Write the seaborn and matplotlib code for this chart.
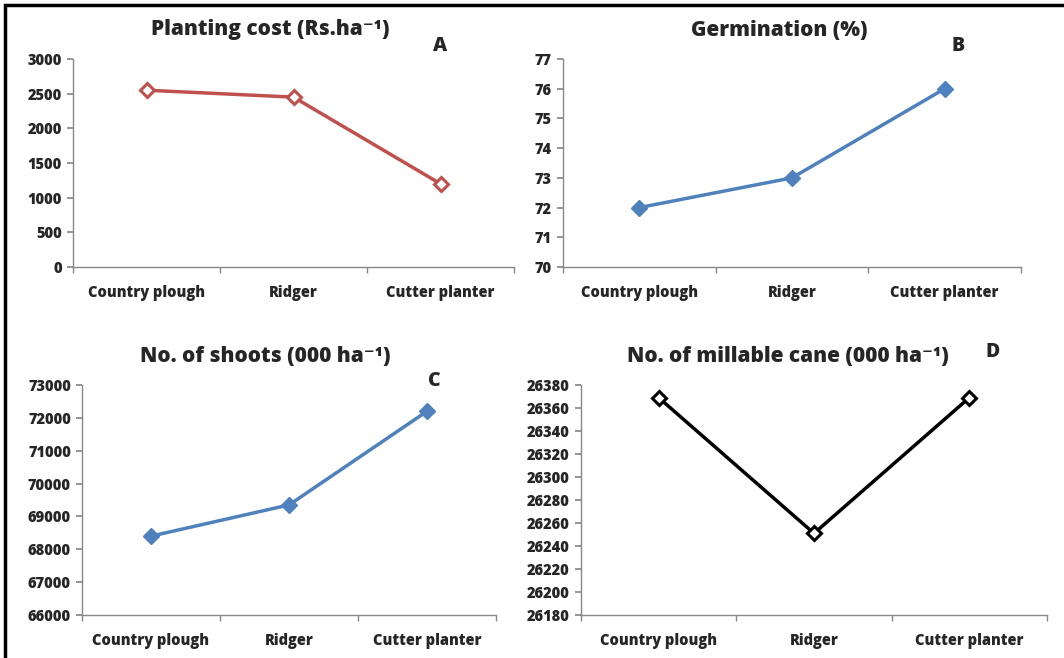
import matplotlib
matplotlib.use("Agg")
import matplotlib.pyplot as plt
import seaborn as sns
import pandas as pd
from matplotlib.patches import Rectangle

# categories shared by all four panels
methods = ["Country plough", "Ridger", "Cutter planter"]

# panel values
planting_cost = [2550, 2450, 1200]
germination = [72, 73, 76]
shoots = [68400, 69350, 72200]
millable_cane = [26369, 26251, 26369]

sns.set_theme(style="white")
plt.rcParams['font.family'] = ['Open Sans', 'DejaVu Sans']
plt.rcParams['font.weight'] = 'bold'

fig = plt.figure(figsize=(10.64, 6.58), dpi=100)

# outer frame
fig.patches.append(Rectangle((5 / 1064, -0.01), 1.02, (653 / 658) + 0.01,
                             transform=fig.transFigure, fill=False,
                             edgecolor="black", linewidth=2.5))

panels = [
    # values, color, open marker?, ylim, ystep, title, letter, axes rect, title xy, letter xy
    (planting_cost, "#C0504D", True, (0, 3000), 500, "Planting cost (Rs.ha\u207b\u00b9)", "A",
     [73, 59, 514, 267], (270, 30), (440, 46)),
    (germination, "#4F81BD", False, (70, 77), 1, "Germination (%)", "B",
     [563, 59, 1021, 267], (779, 30), (958, 46)),
    (shoots, "#4F81BD", False, (66000, 73000), 1000, "No. of shoots (000 ha\u207b\u00b9)", "C",
     [82, 385, 496, 615], (265, 356), (434, 381)),
    (millable_cane, "black", True, (26180, 26380), 20, "No. of millable cane (000 ha\u207b\u00b9)", "D",
     [581, 385, 1047, 615], (788, 356), (993, 352)),
]

W, H = 1064, 658
for vals, color, hollow, ylim, step, title, letter, box, tpos, lpos in panels:
    x0, y0, x1, y1 = box
    ax = fig.add_axes([x0 / W, 1 - y1 / H, (x1 - x0) / W, (y1 - y0) / H])
    df = pd.DataFrame({"method": methods, "value": vals})
    sns.lineplot(data=df, x="method", y="value", ax=ax, color=color, linewidth=2.5,
                 marker="D", markersize=8 if not hollow else 7,
                 markerfacecolor="white" if hollow else color,
                 markeredgecolor=color, markeredgewidth=2.2 if hollow else 1)
    ax.set_xlim(-0.5, 2.5)
    ax.set_ylim(*ylim)
    ax.set_yticks(list(range(ylim[0], ylim[1] + 1, step)))
    ax.set_xticks([0, 1, 2])
    ax.set_xticklabels(methods, fontsize=10.5, fontweight="heavy")
    ax.set_xticks([-0.5, 0.5, 1.5, 2.5], minor=True)
    ax.tick_params(axis="x", which="major", length=0, pad=13)
    ax.tick_params(axis="x", which="minor", length=4, color="#888888", direction="out")
    ax.tick_params(axis="y", length=4, color="#888888", direction="out", labelsize=10.5, pad=4)
    ax.tick_params(axis="both", which="both", bottom=True, left=True)
    for lab in ax.get_yticklabels():
        lab.set_fontweight("heavy")
    ax.set_xlabel("")
    ax.set_ylabel("")
    for s in ["top", "right"]:
        ax.spines[s].set_visible(False)
    for s in ["left", "bottom"]:
        ax.spines[s].set_color("#888888")
        ax.spines[s].set_linewidth(1)
    fig.text(tpos[0] / W, 1 - tpos[1] / H, title, ha="center", va="center",
             fontsize=15, fontweight="heavy")
    fig.text(lpos[0] / W, 1 - lpos[1] / H, letter, ha="center", va="center",
             fontsize=14, fontweight="heavy")

fig.savefig("out.png", dpi=100)
